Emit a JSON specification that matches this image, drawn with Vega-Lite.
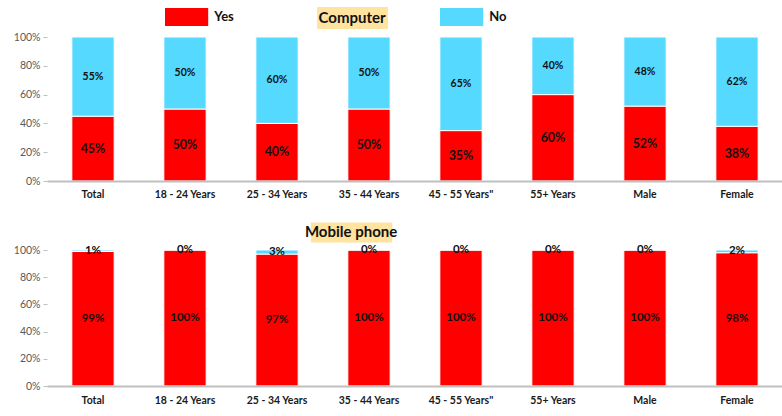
{
  "$schema": "https://vega.github.io/schema/vega-lite/v6.json",
  "padding": {"left": 13, "top": 7, "right": 0, "bottom": 0},
  "spacing": 22,
  "config": {"font": "Lato", "view": {"stroke": null}},
  "datasets": {
    "computer": [
      {"group": "Total", "answer": "Yes", "value": 0.45}, {"group": "Total", "answer": "No", "value": 0.55},
      {"group": "18 - 24 Years", "answer": "Yes", "value": 0.50}, {"group": "18 - 24 Years", "answer": "No", "value": 0.50},
      {"group": "25 - 34 Years", "answer": "Yes", "value": 0.40}, {"group": "25 - 34 Years", "answer": "No", "value": 0.60},
      {"group": "35 - 44 Years", "answer": "Yes", "value": 0.50}, {"group": "35 - 44 Years", "answer": "No", "value": 0.50},
      {"group": "45 - 55 Years\"", "answer": "Yes", "value": 0.35}, {"group": "45 - 55 Years\"", "answer": "No", "value": 0.65},
      {"group": "55+ Years", "answer": "Yes", "value": 0.60}, {"group": "55+ Years", "answer": "No", "value": 0.40},
      {"group": "Male", "answer": "Yes", "value": 0.52}, {"group": "Male", "answer": "No", "value": 0.48},
      {"group": "Female", "answer": "Yes", "value": 0.38}, {"group": "Female", "answer": "No", "value": 0.62}
    ],
    "mobile": [
      {"group": "Total", "answer": "Yes", "value": 0.99}, {"group": "Total", "answer": "No", "value": 0.01},
      {"group": "18 - 24 Years", "answer": "Yes", "value": 1.00}, {"group": "18 - 24 Years", "answer": "No", "value": 0.00},
      {"group": "25 - 34 Years", "answer": "Yes", "value": 0.97}, {"group": "25 - 34 Years", "answer": "No", "value": 0.03},
      {"group": "35 - 44 Years", "answer": "Yes", "value": 1.00}, {"group": "35 - 44 Years", "answer": "No", "value": 0.00},
      {"group": "45 - 55 Years\"", "answer": "Yes", "value": 1.00}, {"group": "45 - 55 Years\"", "answer": "No", "value": 0.00},
      {"group": "55+ Years", "answer": "Yes", "value": 1.00}, {"group": "55+ Years", "answer": "No", "value": 0.00},
      {"group": "Male", "answer": "Yes", "value": 1.00}, {"group": "Male", "answer": "No", "value": 0.00},
      {"group": "Female", "answer": "Yes", "value": 0.98}, {"group": "Female", "answer": "No", "value": 0.02}
    ]
  },
  "resolve": {"scale": {"color": "independent"}, "legend": {"color": "independent"}},
  "vconcat": [
    {
      "width": 736,
      "height": 144,
      "data": {"name": "computer"},
      "encoding": {
        "x": {"field": "group", "type": "nominal",
              "scale": {"type": "band", "domain": ["Total", "18 - 24 Years", "25 - 34 Years", "35 - 44 Years", "45 - 55 Years\"", "55+ Years", "Male", "Female"], "paddingInner": 0.54, "paddingOuter": 0.27},
              "axis": {"title": null, "labelAngle": 0, "ticks": false, "domainColor": "#BFBFBF", "domainWidth": 2, "labelFontWeight": "bold", "labelFontSize": 10.5, "labelColor": "#1a1a1a", "labelPadding": 8}}
      },
      "layer": [
        {
          "data": {"values": [{"panel": "Computer"}]},
          "mark": {"type": "rect", "color": "#FFE39F"},
          "encoding": {
            "x": {"datum": "25 - 34 Years", "bandPosition": 1.447},
            "x2": {"datum": "35 - 44 Years", "bandPosition": 0.95},
            "y": {"datum": 1.056, "type": "quantitative"},
            "y2": {"datum": 1.208}
          }
        },
        {
          "data": {"values": [{"panel": "Computer"}]},
          "mark": {"type": "text", "fontSize": 15, "fontWeight": "bold", "color": "#111111"},
          "encoding": {
            "x": {"datum": "35 - 44 Years", "bandPosition": 0.1},
            "y": {"datum": 1.132, "type": "quantitative"},
            "text": {"field": "panel"}
          }
        },
        {
          "mark": {"type": "bar", "stroke": "white", "strokeWidth": 1},
          "encoding": {
            "y": {"field": "value", "type": "quantitative", "stack": "zero", "scale": {"domain": [0, 1]},
                  "axis": {"title": null, "format": ".0%", "tickCount": 5, "grid": false, "domain": false, "tickSize": 4, "labelPadding": 3, "tickColor": "#BFBFBF", "labelColor": "#595959", "labelFontSize": 10.5}},
            "color": {"field": "answer", "type": "nominal",
                      "scale": {"domain": ["Yes", "No"], "range": ["#FF0000", "#55D9FF"]},
                      "legend": {"orient": "none", "legendX": 130.6, "legendY": -29, "direction": "horizontal", "title": null,
                                 "symbolType": "M-2.4,-1H2.4V1H-2.4Z", "symbolSize": 324, "symbolStrokeWidth": 0, "symbolOpacity": 1,
                                 "labelFontSize": 13, "labelFontWeight": "bold", "labelColor": "#111111", "labelOffset": 18.6, "columnPadding": 205, "padding": 0}},
            "order": {"field": "answer", "sort": "descending"}
          }
        },
        {
          "transform": [
            {"stack": "value", "groupby": ["group"], "sort": [{"field": "answer", "order": "descending"}], "as": ["y0", "y1"]},
            {"fold": ["y0", "y1"], "as": ["edge", "pos"]},
            {"filter": "datum.answer === 'Yes'"}
          ],
          "mark": {"type": "text", "fontWeight": "bold", "color": "#111111", "fontSize": 12.5},
          "encoding": {
            "y": {"aggregate": "mean", "field": "pos", "type": "quantitative"},
            "text": {"field": "value", "type": "quantitative", "format": ".0%"}
          }
        },
        {
          "transform": [
            {"stack": "value", "groupby": ["group"], "sort": [{"field": "answer", "order": "descending"}], "as": ["y0", "y1"]},
            {"fold": ["y0", "y1"], "as": ["edge", "pos"]},
            {"filter": "datum.answer === 'No'"}
          ],
          "mark": {"type": "text", "fontWeight": "bold", "color": "#111111", "fontSize": 10.5},
          "encoding": {
            "y": {"aggregate": "mean", "field": "pos", "type": "quantitative"},
            "text": {"field": "value", "type": "quantitative", "format": ".0%"}
          }
        }
      ]
    },
    {
      "width": 736,
      "height": 136,
      "data": {"name": "mobile"},
      "encoding": {
        "x": {"field": "group", "type": "nominal",
              "scale": {"type": "band", "domain": ["Total", "18 - 24 Years", "25 - 34 Years", "35 - 44 Years", "45 - 55 Years\"", "55+ Years", "Male", "Female"], "paddingInner": 0.54, "paddingOuter": 0.27},
              "axis": {"title": null, "labelAngle": 0, "ticks": false, "domainColor": "#BFBFBF", "domainWidth": 2, "labelFontWeight": "bold", "labelFontSize": 10.5, "labelColor": "#1a1a1a", "labelPadding": 9}}
      },
      "layer": [
        {
          "data": {"values": [{"panel": "Mobile phone"}]},
          "mark": {"type": "rect", "color": "#FFE39F"},
          "encoding": {
            "x": {"datum": "25 - 34 Years", "bandPosition": 1.3},
            "x2": {"datum": "35 - 44 Years", "bandPosition": 1.05},
            "y": {"datum": 1.055, "type": "quantitative"},
            "y2": {"datum": 1.203}
          }
        },
        {
          "data": {"values": [{"panel": "Mobile phone"}]},
          "mark": {"type": "text", "fontSize": 15, "fontWeight": "bold", "color": "#111111"},
          "encoding": {
            "x": {"datum": "35 - 44 Years", "bandPosition": 0.076},
            "y": {"datum": 1.129, "type": "quantitative"},
            "text": {"field": "panel"}
          }
        },
        {
          "mark": {"type": "bar", "stroke": "white", "strokeWidth": 1},
          "encoding": {
            "y": {"field": "value", "type": "quantitative", "stack": "zero", "scale": {"domain": [0, 1]},
                  "axis": {"title": null, "format": ".0%", "tickCount": 5, "grid": false, "domain": false, "tickSize": 4, "labelPadding": 3, "tickColor": "#BFBFBF", "labelColor": "#595959", "labelFontSize": 10.5}},
            "color": {"field": "answer", "type": "nominal",
                      "scale": {"domain": ["Yes", "No"], "range": ["#FF0000", "#55D9FF"]},
                      "legend": null},
            "order": {"field": "answer", "sort": "descending"}
          }
        },
        {
          "transform": [
            {"stack": "value", "groupby": ["group"], "sort": [{"field": "answer", "order": "descending"}], "as": ["y0", "y1"]},
            {"fold": ["y0", "y1"], "as": ["edge", "pos"]}
          ],
          "mark": {"type": "text", "fontWeight": "bold", "color": "#111111", "fontSize": 11.5},
          "encoding": {
            "y": {"aggregate": "mean", "field": "pos", "type": "quantitative"},
            "text": {"field": "value", "type": "quantitative", "format": ".0%"},
            "detail": {"field": "answer"}
          }
        }
      ]
    }
  ]
}
